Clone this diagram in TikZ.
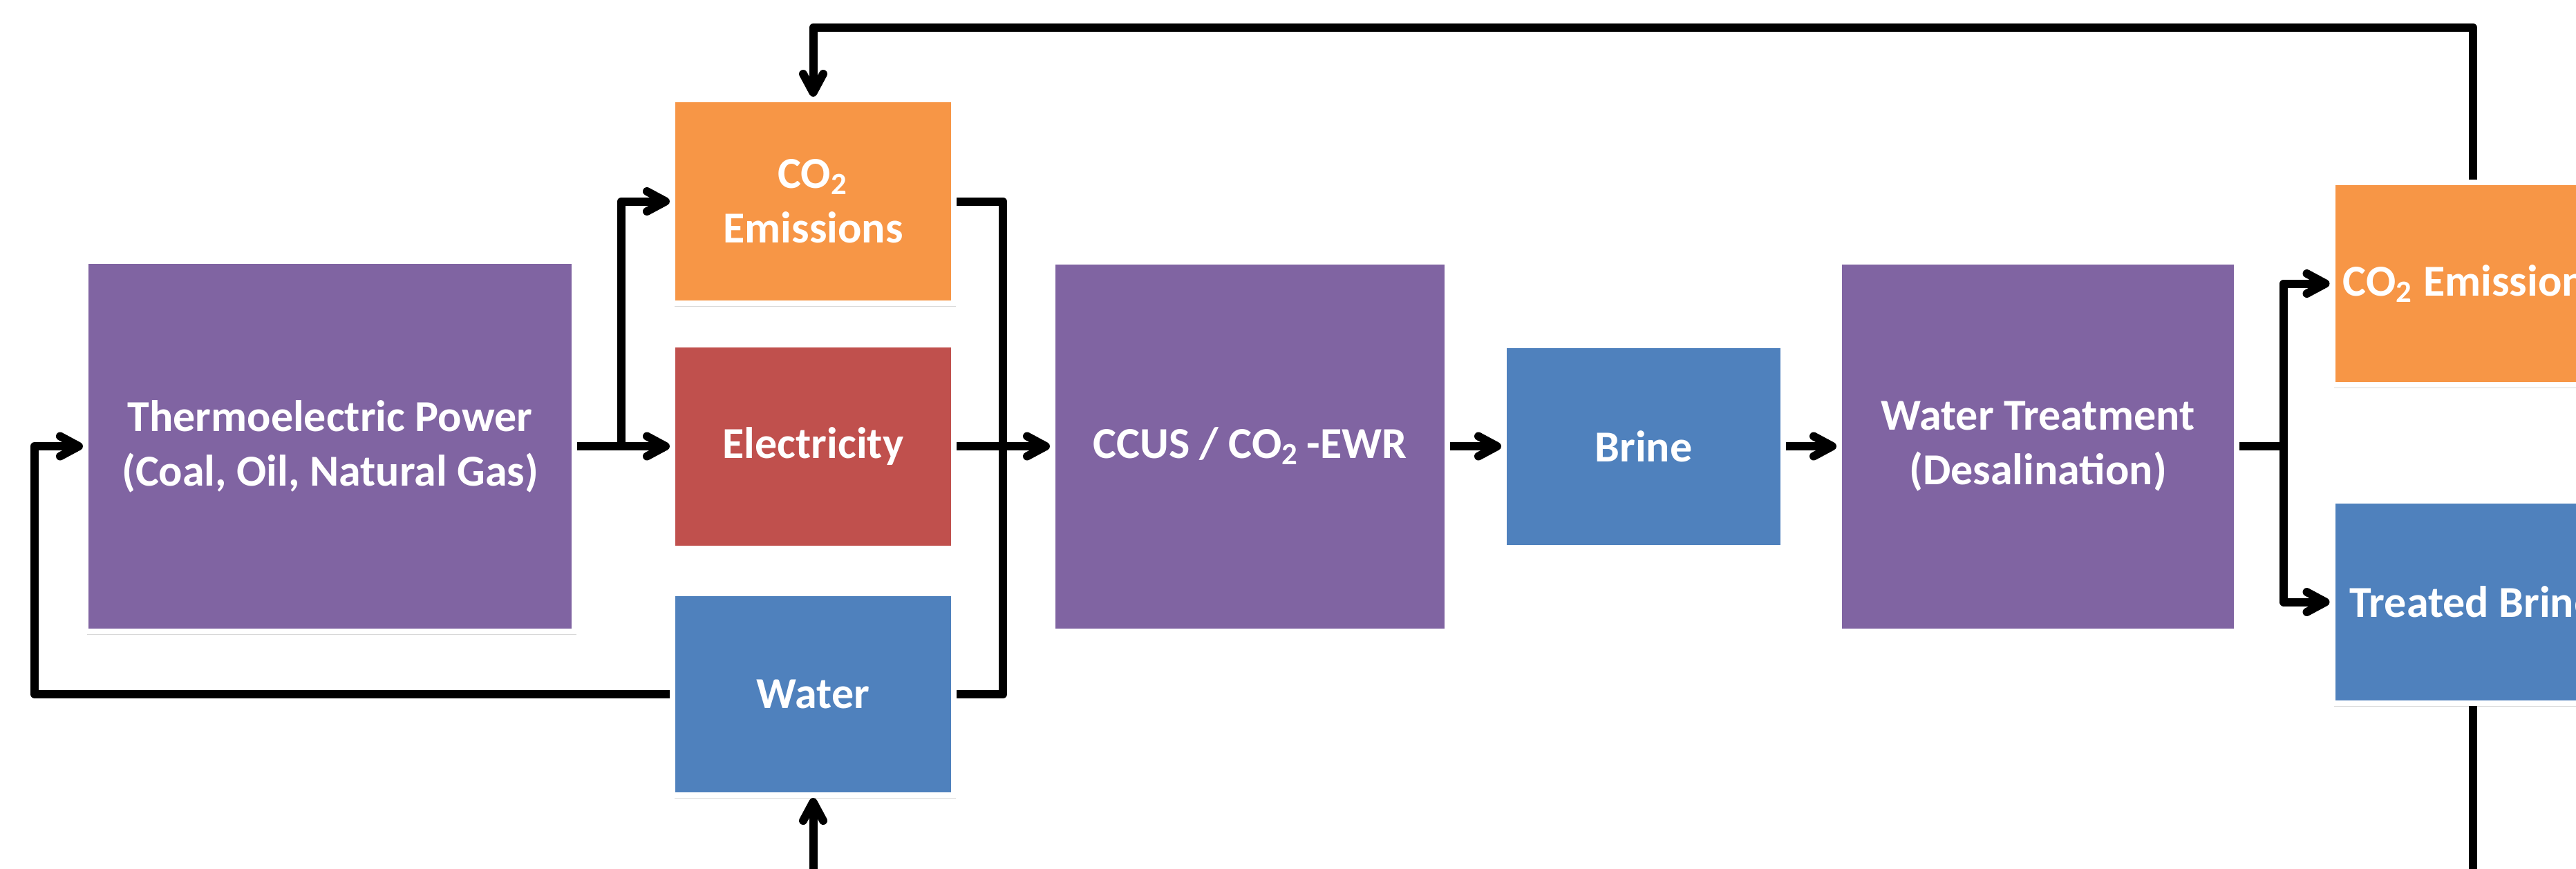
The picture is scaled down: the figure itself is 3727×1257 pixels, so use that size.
\documentclass[tikz,border=0pt]{standalone}
\usepackage{fontspec}
\setmainfont{Carlito}
\usetikzlibrary{arrows.meta,shadows}
\definecolor{cpurple}{HTML}{8064A2}
\definecolor{corange}{HTML}{F79646}
\definecolor{cred}{HTML}{C0504D}
\definecolor{cblue}{HTML}{4F81BD}
\begin{document}
\begin{tikzpicture}[x=0.2pt,y=-0.2pt,
  box/.style={draw=white, line width=1.6pt, text=white,
    font=\bfseries\fontsize{12.8}{15.8}\selectfont, align=center, inner sep=0pt,
    drop shadow={shadow xshift=0.5pt, shadow yshift=-0.9pt, opacity=0.25, fill=black!60}},
  conn/.style={line width=2.4pt, line join=round},
  arr/.style={conn, -{Straight Barb[length=5.4pt,width=5.8pt,round]}}]
\useasboundingbox (0,0) rectangle (3727,1257);
\fill[white] (0,0) rectangle (3727,1257);
\clip (0,0) rectangle (3727,1257);

% nodes
\node[box, fill=cpurple, minimum width=141.4pt, minimum height=107.2pt] (thermo) at (477.5,646)
  {Thermoelectric Power\\(Coal, Oil, Natural Gas)};
\node[box, fill=corange, minimum width=81.4pt, minimum height=59pt] (co2a) at (1176.5,291.5)
  {CO\textsubscript{2}\\Emissions};
\node[box, fill=cred, minimum width=81.4pt, minimum height=59pt] (elec) at (1176.5,646)
  {Electricity};
\node[box, fill=cblue, minimum width=81.4pt, minimum height=58.4pt] (water) at (1176.5,1005)
  {Water};
\node[box, fill=cpurple, minimum width=114.2pt, minimum height=107pt] (ccus) at (1808.5,646)
  {CCUS / CO\textsubscript{2}\,-EWR};
\node[box, fill=cblue, minimum width=80.8pt, minimum height=58.6pt] (brine) at (2378,646)
  {Brine};
\node[box, fill=cpurple, minimum width=115pt, minimum height=107pt] (wt) at (2948.5,646)
  {Water Treatment\\(Desalination)};
\node[box, fill=corange, minimum width=81.4pt, minimum height=58.6pt] (co2b) at (3578,410.5)
  {CO\textsubscript{2} Emissions};
\node[box, fill=cblue, minimum width=81.4pt, minimum height=58.6pt] (tb) at (3578,871.5)
  {Treated Brine};

% helper coordinates
\coordinate (fbl) at (50,1005);
\coordinate (toploop) at (1176.5,40);
\coordinate (botloop) at (1176.5,1330);

% connectors
\draw[arr] (thermo.east) -- ++(64,0) |- (co2a.west);
\draw[arr] (thermo.east) -- (elec.west);
\draw[arr] (water.west) -- (fbl) |- (thermo.west);
\draw[conn] (co2a.east) -- ++(67,0) |- (water.east);
\draw[arr] (elec.east) -- (ccus.west);
\draw[arr] (ccus.east) -- (brine.west);
\draw[arr] (brine.east) -- (wt.west);
\draw[arr] (wt.east) -- ++(64,0) |- (co2b.west);
\draw[arr] (wt.east) -- ++(64,0) |- (tb.west);
\draw[arr] (co2b.north) |- (toploop) -- (co2a.north);
\draw[arr] (tb.south) |- (botloop) -- (water.south);
\end{tikzpicture}
\end{document}
